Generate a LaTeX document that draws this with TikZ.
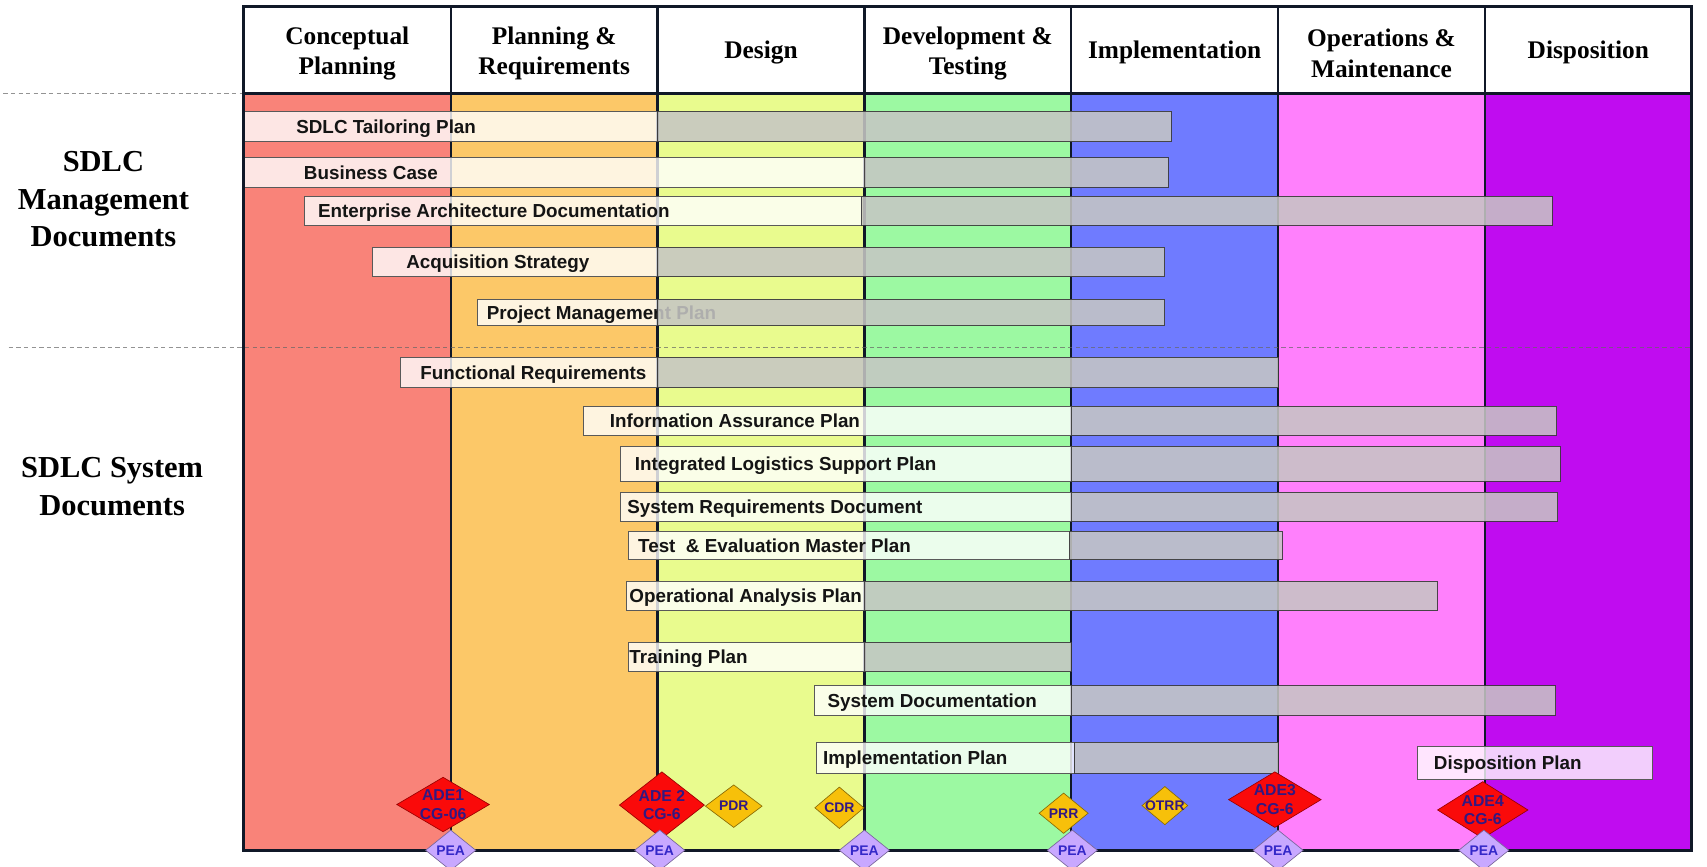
\documentclass[tikz,border=0pt]{standalone}
\usepackage{fontspec}
\setmainfont{Liberation Serif}
\setsansfont{Liberation Sans}
\usetikzlibrary{shapes.geometric}
\definecolor{colA}{RGB}{249,131,121}
\definecolor{colB}{RGB}{252,200,104}
\definecolor{colC}{RGB}{233,251,142}
\definecolor{colD}{RGB}{156,249,162}
\definecolor{colE}{RGB}{111,123,255}
\definecolor{colF}{RGB}{255,128,252}
\definecolor{colG}{RGB}{192,12,240}
\definecolor{frameC}{RGB}{16,24,40}
\definecolor{barGray}{RGB}{198,198,196}
\definecolor{adeRed}{RGB}{250,10,10}
\definecolor{msGold}{RGB}{247,192,10}
\definecolor{lav}{RGB}{200,168,255}
\definecolor{msText}{RGB}{50,24,130}
\definecolor{peaText}{RGB}{52,40,200}

\tikzset{
  hdr/.style={font=\bfseries\fontsize{23.3}{28}\selectfont, align=center, inner sep=0pt},
  side/.style={font=\bfseries\fontsize{28}{34.5}\selectfont, align=center, inner sep=0pt},
  lightpart/.style={fill=white, fill opacity=0.8, draw=gray!70!black, line width=0.8pt},
  shadepart/.style={fill=barGray, fill opacity=0.87, draw=gray!45!black, draw opacity=0.9, line width=0.8pt},
  bartext/.style={font=\sffamily\bfseries\fontsize{17.3}{20}\selectfont, anchor=base west, inner sep=0pt, text=black!92},
  divider/.style={draw=frameC, line width=2.2pt},
  frameline/.style={draw=frameC, line width=2.8pt},
  sepline/.style={draw=gray!80!black, draw opacity=0.7, dash pattern=on 4pt off 3pt, line width=1pt},
  redms/.style={fill=adeRed, draw=red!60!black, line width=0.6pt},
  goldms/.style={fill=msGold, draw=msGold!55!black, line width=0.6pt},
  peams/.style={fill=lav, draw=lav!60!black, line width=0.6pt},
  adetext/.style={font=\sffamily\bfseries\fontsize{14.5}{17}\selectfont, text=msText, align=center, inner sep=0pt},
  mstext/.style={font=\sffamily\bfseries\fontsize{12.8}{15}\selectfont, text=msText, inner sep=0pt},
  peatext/.style={font=\sffamily\bfseries\fontsize{12.8}{15}\selectfont, text=peaText, inner sep=0pt},
}

% name, y1, y2, xLeft, xMid, xRight, textX, text
\newcommand\docbar[8]{%
  \path[lightpart] (#4,#2) rectangle (#5,#3);
  \node[bartext] (#1) at (#7,{(#2+#3)/2+6.2}) {#8};
  \path[shadepart] (#5,#2) rectangle (#6,#3);
}
% name, x, y, half width, half height, shape style, text style, text
\newcommand\msd[8]{%
  \path[#6] (#2-#4,#3) -- (#2,#3-#5) -- (#2+#4,#3) -- (#2,#3+#5) -- cycle;
  \node[#7] (#1) at (#2,#3) {#8};
}

\begin{document}
\begin{tikzpicture}[x=1pt,y=-1pt]
\useasboundingbox (0,0) rectangle (1568,796);
\fill[white] (0,0) rectangle (1568,796);

% phase columns
\fill[colA] (224,86) rectangle (414,781);
\fill[colB] (414,86) rectangle (604,781);
\fill[colC] (604,86) rectangle (794,781);
\fill[colD] (794,86) rectangle (984,781);
\fill[colE] (984,86) rectangle (1174,781);
\fill[colF] (1174,86) rectangle (1364,781);
\fill[colG] (1364,86) rectangle (1554,781);

% dividers
\foreach \xx in {414,604,794,984,1174,1364} {
  \draw[divider] (\xx,6) -- (\xx,781);
}

% headers
\node[hdr] (h1) at (319,49) {Conceptual\\Planning};
\node[hdr] (h2) at (509,49) {Planning \&\\Requirements};
\node[hdr] (h3) at (699,48) {Design};
\node[hdr] (h4) at (889,49) {Development \&\\Testing};
\node[hdr] (h5) at (1079,48) {Implementation};
\node[hdr] (h6) at (1269,49) {Operations \&\\Maintenance};
\node[hdr] (h7) at (1459,48) {Disposition};

% separators
\draw[sepline] (3,86) -- (224,86);
\draw[sepline] (8,319) -- (1554,319);

% side labels
\node[side] (mgmt) at (95,183) {SDLC\\Management\\Documents};
\node[side] (sysd) at (103,447) {SDLC System\\Documents};

% management documents
\docbar{tail}{102}{130}{224}{604}{1076}{272}{SDLC Tailoring Plan}
\docbar{bcase}{145}{172}{224}{794}{1073}{279}{Business Case}
\docbar{ead}{180}{207}{280}{791}{1426}{292}{Enterprise Architecture Documentation}
\docbar{acq}{227}{254}{342}{604}{1070}{373}{Acquisition Strategy}
\docbar{pmp}{275}{299}{439}{604}{1070}{447}{Project Management Plan}

% system documents
\docbar{freq}{328}{356}{368}{604}{1174}{386}{Functional Requirements}
\docbar{iap}{373}{400}{536}{984}{1430}{560}{Information Assurance Plan}
\docbar{ilsp}{410}{442}{570}{984}{1433}{583}{Integrated Logistics Support Plan}
\docbar{srd}{452}{479}{570}{984}{1431}{576}{System Requirements Document}
\docbar{temp}{488}{514}{577}{982}{1178}{586}{Test~~\& Evaluation Master Plan}
\docbar{oap}{534}{561}{575}{794}{1320}{578}{Operational Analysis Plan}
\docbar{train}{590}{617}{577}{794}{984}{578}{Training Plan}
\docbar{sysdoc}{630}{657}{748}{984}{1429}{760}{System Documentation}
\docbar{implp}{682}{710}{750}{987}{1174}{756}{Implementation Plan}
\path[lightpart] (1302,686) rectangle (1518,716);
\node[bartext] (dispp) at (1317,707.2) {Disposition Plan};

% frame
\draw[frameline] (224,6) rectangle (1554,781);
\draw[frameline] (224,86) -- (1554,86);

% milestones
\msd{ade1}{407}{739}{42.5}{25}{redms}{adetext}{ADE1\\CG-06}
\msd{ade2}{608}{739.5}{39}{30.5}{redms}{adetext}{ADE 2\\CG-6}
\msd{pdr}{674}{740.5}{26}{19.5}{goldms}{mstext}{PDR}
\msd{cdr}{771}{742}{22.5}{19}{goldms}{mstext}{CDR}
\msd{prr}{977}{747}{22.5}{18.5}{goldms}{mstext}{PRR}
\msd{otrr}{1070}{740}{21}{17.5}{goldms}{mstext}{OTRR}
\msd{ade3}{1171}{734.5}{42.5}{25.5}{redms}{adetext}{ADE3\\CG-6}
\msd{ade4}{1362}{744}{41.5}{26}{redms}{adetext}{ADE4\\CG-6}
\msd{peaA}{414}{781}{23}{18.5}{peams}{peatext}{PEA}
\msd{peaB}{606}{781}{23}{18.5}{peams}{peatext}{PEA}
\msd{peaC}{794}{781}{23}{18.5}{peams}{peatext}{PEA}
\msd{peaD}{985}{781}{23}{18.5}{peams}{peatext}{PEA}
\msd{peaE}{1174}{781}{23}{18.5}{peams}{peatext}{PEA}
\msd{peaF}{1363}{781}{23}{18.5}{peams}{peatext}{PEA}
\end{tikzpicture}
\end{document}
